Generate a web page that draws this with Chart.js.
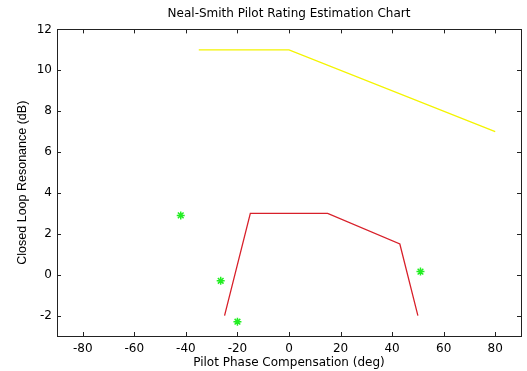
<!DOCTYPE html>
<html>
<head>
<meta charset="utf-8">
<script src="https://cdn.jsdelivr.net/npm/chart.js@4.4.1/dist/chart.umd.min.js"></script>
<style>
  html, body { margin: 0; padding: 0; background: #fff; }
  #wrap { width: 527px; height: 371px; }
</style>
</head>
<body>
<div id="wrap"><canvas id="nsChart" width="527" height="371"></canvas></div>
<script>
// level 1/2 boundary (yellow) and level 1 region (red)
const yellowX = [-35, 0, 80];
const yellowY = [11, 11, 7];
const redX = [-25, -15, 15, 43, 50];
const redY = [-2, 3, 3, 1.5, -2];
// estimated pilot ratings (green asterisks)
const pointX = [-42, -26.5, -20, 51];
const pointY = [2.9, -0.3, -2.3, 0.15];
// axis ticks
const xTicks = [-80, -60, -40, -20, 0, 20, 40, 60, 80];
const yTicks = [-2, 0, 2, 4, 6, 8, 10, 12];

const fontFam = "'DejaVu Sans', Verdana, sans-serif";
const fontRot = "'Liberation Sans', Arial, sans-serif";

function toPoints(xs, ys) {
    return xs.map((x, i) => ({ x: x, y: ys[i] }));
}

// MATLAB style box with inward ticks on all four sides
const boxTicks = {
    id: 'boxTicks',
    afterDraw(chart) {
        const ctx = chart.ctx;
        const a = chart.chartArea;
        const xs = chart.scales.x, ys = chart.scales.y;
        const len = 4;
        ctx.save();
        ctx.strokeStyle = '#222';
        ctx.lineWidth = 1;
        ctx.strokeRect(Math.round(a.left) + 0.5, Math.round(a.top) + 0.5,
            Math.round(a.right - a.left), Math.round(a.bottom - a.top));
        ctx.beginPath();
        xTicks.forEach(v => {
            const px = Math.round(xs.getPixelForValue(v)) + 0.5;
            ctx.moveTo(px, a.bottom); ctx.lineTo(px, a.bottom - len);
            ctx.moveTo(px, a.top); ctx.lineTo(px, a.top + len);
        });
        yTicks.forEach(v => {
            const py = Math.round(ys.getPixelForValue(v)) + 0.5;
            ctx.moveTo(a.left, py); ctx.lineTo(a.left + len, py);
            ctx.moveTo(a.right, py); ctx.lineTo(a.right - len, py);
        });
        ctx.stroke();
        ctx.restore();
    }
};

const ctx = document.getElementById('nsChart').getContext('2d');
new Chart(ctx, {
    type: 'scatter',
    data: {
        datasets: [
            {
                label: 'Level boundary',
                data: toPoints(yellowX, yellowY),
                showLine: true,
                borderColor: '#f4f400',
                borderWidth: 1.3,
                pointRadius: 0
            },
            {
                label: 'Level 1',
                data: toPoints(redX, redY),
                showLine: true,
                borderColor: '#d8202a',
                borderWidth: 1.3,
                pointRadius: 0
            },
            {
                label: 'Estimates',
                data: toPoints(pointX, pointY),
                showLine: false,
                pointStyle: 'star',
                pointRadius: 4,
                borderColor: '#22ee22',
                borderWidth: 1.5,
                backgroundColor: '#22ee22'
            }
        ]
    },
    options: {
        responsive: false,
        animation: false,
        layout: { padding: { left: 0, right: 6, top: 0, bottom: 0 } },
        plugins: {
            legend: { display: false },
            tooltip: { enabled: false },
            title: {
                display: true,
                fullSize: false,
                text: 'Neal-Smith Pilot Rating Estimation Chart',
                color: '#000',
                font: { family: fontFam, size: 12, weight: 'normal' },
                padding: { top: 7, bottom: 8 }
            }
        },
        scales: {
            x: {
                type: 'linear',
                min: -90,
                max: 90,
                afterBuildTicks: s => { s.ticks = xTicks.map(v => ({ value: v })); },
                afterFit: s => { s.height = 35; },
                grid: { display: false, drawTicks: false },
                border: { display: false },
                ticks: { color: '#000', padding: 6, maxRotation: 0, font: { family: fontFam, size: 12 } },
                title: {
                    display: true,
                    text: 'Pilot Phase Compensation (deg)',
                    color: '#000',
                    font: { family: fontFam, size: 12 },
                    padding: { top: 0, bottom: 1 }
                }
            },
            y: {
                type: 'linear',
                min: -3,
                max: 12,
                afterBuildTicks: s => { s.ticks = yTicks.map(v => ({ value: v })); },
                afterFit: s => { s.width = 57; },
                grid: { display: false, drawTicks: false },
                border: { display: false },
                ticks: { color: '#000', padding: 5, font: { family: fontFam, size: 12 } },
                title: {
                    display: true,
                    text: 'Closed Loop Resonance (dB)',
                    color: '#000',
                    font: { family: fontRot, size: 12.5 },
                    padding: { top: 15, bottom: 0 }
                }
            }
        }
    },
    plugins: [boxTicks]
});
</script>
</body>
</html>
